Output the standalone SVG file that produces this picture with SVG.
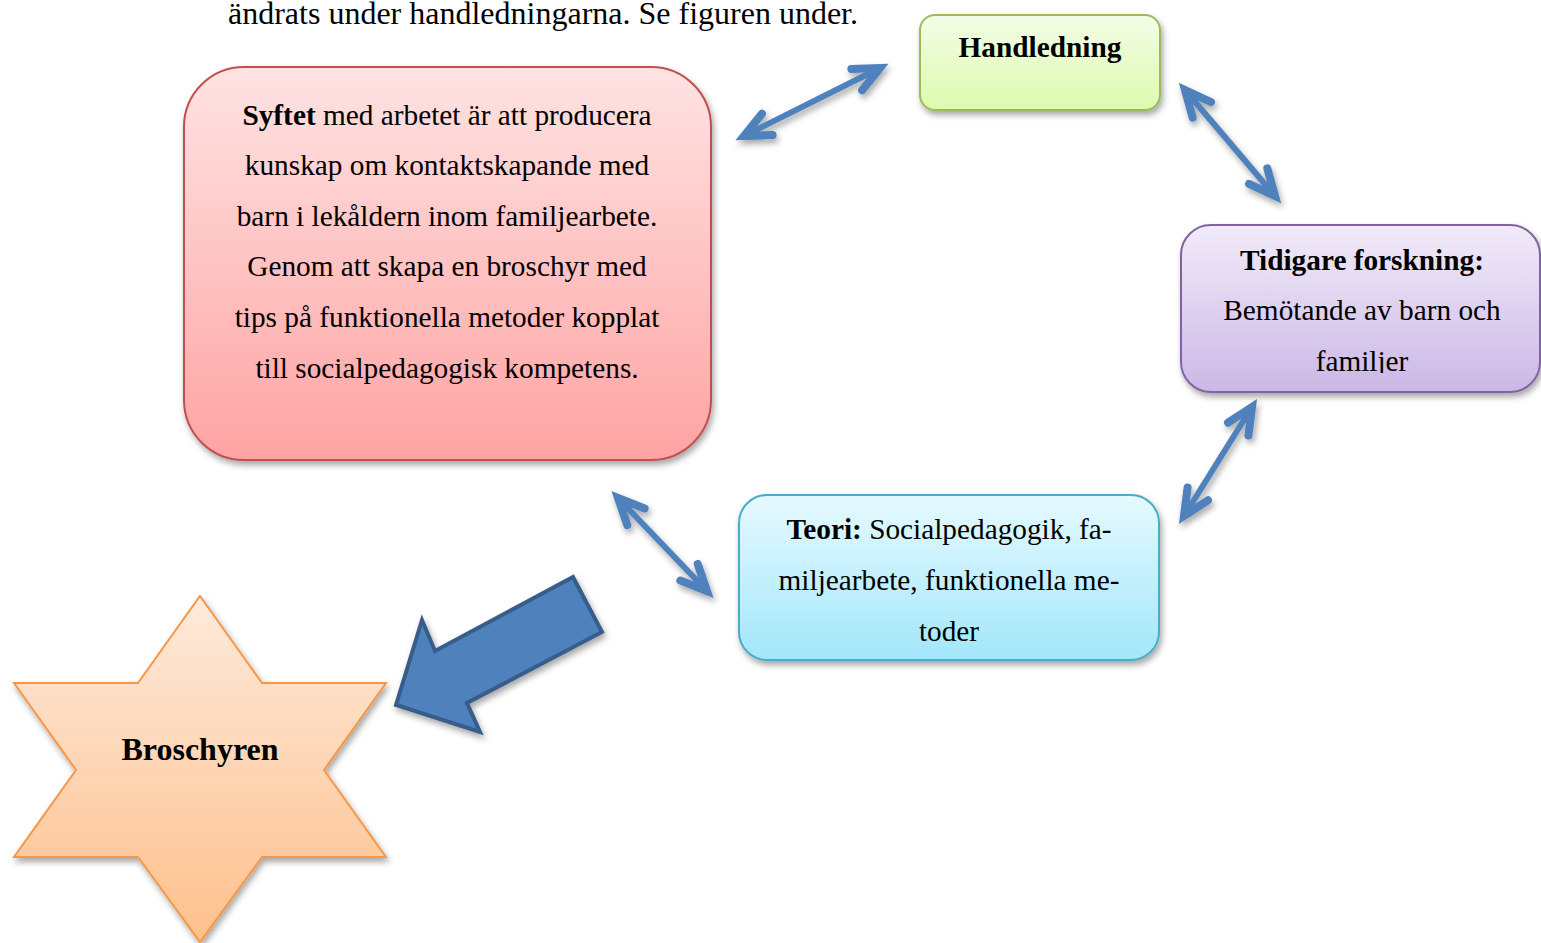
<svg xmlns="http://www.w3.org/2000/svg" width="1541" height="943" viewBox="0 0 1541 943">
<defs>
<style>
text{font-family:"Liberation Serif","Times New Roman",serif;font-size:29.3px;fill:#000;text-anchor:middle}
.b{font-weight:bold}
.big{font-size:32px}
.conn{stroke:#4F81BD;stroke-width:6;fill:none;stroke-linecap:butt}
</style>
<linearGradient id="gRed" x1="0" y1="0" x2="0" y2="1"><stop offset="0" stop-color="#FEE3E3"/><stop offset="1" stop-color="#FFA3A3"/></linearGradient>
<linearGradient id="gGreen" x1="0" y1="0" x2="0" y2="1"><stop offset="0" stop-color="#F4FDE6"/><stop offset="1" stop-color="#DCFAAE"/></linearGradient>
<linearGradient id="gPurple" x1="0" y1="0" x2="0" y2="1"><stop offset="0" stop-color="#F1EBF9"/><stop offset="1" stop-color="#CBB8E6"/></linearGradient>
<linearGradient id="gTeal" x1="0" y1="0" x2="0" y2="1"><stop offset="0" stop-color="#E6F9FF"/><stop offset="1" stop-color="#A2E7FA"/></linearGradient>
<linearGradient id="gStar" x1="0" y1="0" x2="0" y2="1"><stop offset="0" stop-color="#FDEADB"/><stop offset="1" stop-color="#FEC08C"/></linearGradient>
<filter id="sh" x="-20%" y="-20%" width="140%" height="150%"><feDropShadow dx="2" dy="4" stdDeviation="3" flood-color="#000" flood-opacity="0.35"/></filter>
<marker id="ah" viewBox="-32 -20 40 40" markerWidth="40" markerHeight="40" refX="0" refY="0" orient="auto-start-reverse" markerUnits="userSpaceOnUse" overflow="visible">
<path d="M -26 -12 L 0 0 L -26 12" fill="none" stroke="#4F81BD" stroke-width="8" stroke-linecap="round" stroke-linejoin="miter"/>
</marker>
<clipPath id="cpPurple"><rect x="1181" y="225" width="360" height="148"/></clipPath>
</defs>
<rect width="1541" height="943" fill="#fff"/>
<text class="big" x="543" y="24">ändrats under handledningarna. Se figuren under.</text>

<g id="connectors" filter="url(#sh)">
<line class="conn" x1="744" y1="136" x2="880" y2="68" marker-start="url(#ah)" marker-end="url(#ah)"/>
<line class="conn" x1="1185" y1="90" x2="1275" y2="196" marker-start="url(#ah)" marker-end="url(#ah)"/>
<line class="conn" x1="1252" y1="407" x2="1184" y2="516" marker-start="url(#ah)" marker-end="url(#ah)"/>
<line class="conn" x1="618" y1="498" x2="707" y2="591" marker-start="url(#ah)" marker-end="url(#ah)"/>
<polygon id="bigArrow" points="396,705 422,620 435,651 573,577 602,632 467,703 480,732" fill="#4F81BD" stroke="#385D8A" stroke-width="4" stroke-linejoin="miter"/>
</g>

<g id="syfte">
<rect x="184" y="67" width="527" height="393" rx="60" ry="60" fill="url(#gRed)" stroke="#C0504D" stroke-width="2" filter="url(#sh)"/>
<text x="447" y="125"><tspan class="b">Syftet</tspan> med arbetet är att producera</text>
<text x="447" y="175">kunskap om kontaktskapande med</text>
<text x="447" y="226">barn i lekåldern inom familjearbete.</text>
<text x="447" y="276">Genom att skapa en broschyr med</text>
<text x="447" y="327">tips på funktionella metoder kopplat</text>
<text x="447" y="378">till socialpedagogisk kompetens.</text>
</g>

<g id="handledning">
<rect x="920" y="15" width="240" height="95" rx="15" ry="15" fill="url(#gGreen)" stroke="#9BBB59" stroke-width="2" filter="url(#sh)"/>
<text class="b" x="1040" y="57">Handledning</text>
</g>

<g id="forskning">
<rect x="1181" y="225" width="359" height="167" rx="30" ry="30" fill="url(#gPurple)" stroke="#8064A2" stroke-width="2" filter="url(#sh)"/>
<g clip-path="url(#cpPurple)">
<text class="b" x="1362" y="270">Tidigare forskning:</text>
<text x="1362" y="320">Bemötande av barn och</text>
<text x="1362" y="371">familjer</text>
</g>
</g>

<g id="teori">
<rect x="739" y="495" width="420" height="165" rx="28" ry="28" fill="url(#gTeal)" stroke="#4BACC6" stroke-width="2" filter="url(#sh)"/>
<text x="949" y="539"><tspan class="b">Teori:</tspan> Socialpedagogik, fa-</text>
<text x="949" y="590">miljearbete, funktionella me-</text>
<text x="949" y="641">toder</text>
</g>

<g id="broschyren">
<polygon points="200,596 262,683 386,683 324,770 386,857 262,857 200,942 138,857 14,857 76,770 14,683 138,683" fill="url(#gStar)" stroke="#F79646" stroke-width="2" filter="url(#sh)"/>
<text class="b big" x="200" y="760">Broschyren</text>
</g>
</svg>
